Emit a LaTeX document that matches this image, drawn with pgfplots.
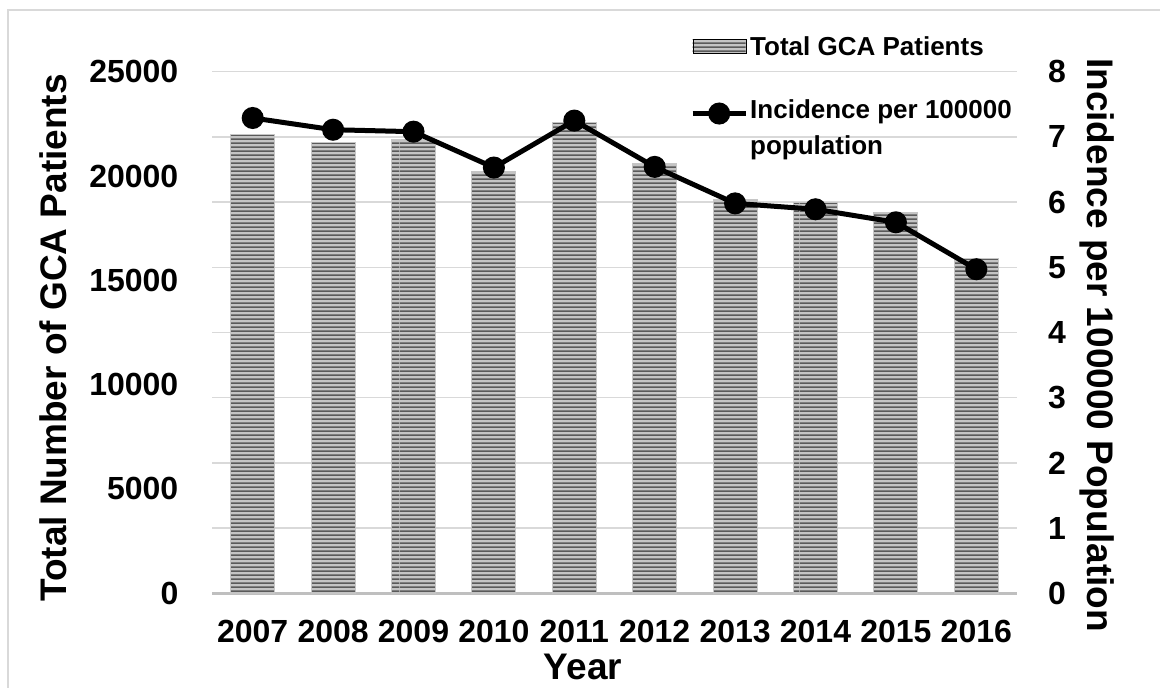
\documentclass[border=0pt]{standalone}
\usepackage{fontspec}
\setmainfont{Liberation Sans}
\usepackage{pgfplots}
\usepackage{pgfplotstable}
\pgfplotsset{compat=1.18}
\usetikzlibrary{patterns}

\definecolor{gridgray}{HTML}{D9D9D9}
\definecolor{axisgray}{HTML}{BFBFBF}
\definecolor{framegray}{HTML}{D9D9D9}
\definecolor{barlight}{HTML}{C4C4C4}
\definecolor{bardark}{HTML}{5A5A5A}

\newcommand\tickfont{\fontsize{32}{38}\selectfont\bfseries}
\newcommand\titlefont{\fontsize{37}{44}\selectfont\bfseries}
\newcommand\legfont{\fontsize{26}{36}\selectfont\bfseries}

% horizontal stripes, 4pt period, 2pt dark band, wide tile to avoid seams
\pgfdeclarepatternformonly{hstripes}{\pgfqpoint{0pt}{0pt}}{\pgfqpoint{200pt}{4pt}}{\pgfqpoint{200pt}{4pt}}{%
  \pgfpathrectangle{\pgfqpoint{0pt}{0pt}}{\pgfqpoint{200pt}{2pt}}\pgfusepath{fill}}

\tikzset{
  stripedbar/.style={fill=barlight, draw=gray!45, line width=1pt,
    postaction={pattern=hstripes, pattern color=bardark}},
}

% GCA patients per year and incidence per 100000 population
\pgfplotstableread{
x    year patients incidence
0.5  2007 21966 7.29
1.5  2008 21597 7.11
2.5  2009 21727 7.08
3.5  2010 20207 6.53
4.5  2011 22575 7.25
5.5  2012 20576 6.54
6.5  2013 18851 5.98
7.5  2014 18740 5.89
8.5  2015 18261 5.69
9.5  2016 16056 4.97
}\gcadata

\pgfplotsset{
  common/.style={
    at={(212.5pt,94.7pt)}, anchor=south west,
    scale only axis, width=804pt, height=521.6pt,
    xmin=0, xmax=10, enlargelimits=false,
    major tick length=0pt,
    scaled y ticks=false,
  },
}

\begin{document}
\begin{tikzpicture}[x=1pt,y=1pt]
\path[use as bounding box] (0,0) rectangle (1160,688);
\draw[framegray, line width=1.5pt] (8,0) -- (8,678) -- (1160,678);

% left axis: patient counts as striped bars
\begin{axis}[common,
  ymin=0, ymax=25000,
  axis x line*=bottom, axis y line*=left,
  x axis line style={draw=axisgray, line width=3pt},
  y axis line style={draw=none},
  xtick={0.5,1.5,...,9.5},
  xticklabels={2007,2008,2009,2010,2011,2012,2013,2014,2015,2016},
  xticklabel style={font=\tickfont, inner sep=0pt, anchor=north, yshift=-27pt},
  ytick={0,5000,10000,15000,20000,25000},
  yticklabels={0,5000,10000,15000,20000,25000},
  yticklabel style={font=\tickfont, inner sep=0pt, anchor=east, xshift=-34pt},
  extra y ticks={3125,6250,9375,12500,15625,18750,21875,25000},
  extra y tick labels={},
  extra y tick style={grid=major, major grid style={draw=gridgray, line width=1.5pt}},
  xlabel={Year},
  every axis x label/.style={at={(axis description cs:0.4608,-0.1662)}, anchor=base, font=\titlefont},
  ylabel={Total Number of GCA Patients},
  every axis y label/.style={at={(axis description cs:-0.1822,0.4895)}, rotate=90, anchor=base, font=\titlefont},
]
\addplot[ybar, bar width=44pt, stripedbar] table[x=x, y=patients] {\gcadata};
\end{axis}

% right axis: incidence line
\begin{axis}[common,
  ymin=0, ymax=8, clip=false,
  axis x line=none, axis y line*=right,
  y axis line style={draw=none},
  ytick={0,1,2,3,4,5,6,7,8},
  yticklabels={0,1,2,3,4,5,6,7,8},
  yticklabel style={font=\tickfont, inner sep=0pt, anchor=west, xshift=31.5pt},
  ylabel={Incidence per 100000 Population},
  every axis y label/.style={at={(axis description cs:1.0889,0.476)}, rotate=-90, anchor=base, font=\titlefont},
  legend cell align=left,
  legend style={at={(axis description cs:0.5939,1.0723)}, anchor=north west,
    draw=none, fill=none, inner sep=0pt, font=\legfont,
    row sep=30pt, nodes={inner sep=2pt}},
]
\addlegendimage{legend image code/.code={
  \fill[barlight] (0pt,-7pt) rectangle (53pt,7pt);
  \fill[pattern=hstripes, pattern color=bardark] (0pt,-7pt) rectangle (53pt,7pt);}}
\addlegendentry{Total GCA Patients}
\addplot[black, line width=5pt, mark=*, mark size=8.5pt,
  legend image code/.code={
    \path (0pt,-15.5pt) (0pt,15.5pt);
    \draw[black, line width=5pt] (0pt,-7pt) -- (53pt,-7pt);
    \fill[black] (26.5pt,-7pt) circle (8.5pt);}]
  table[x=x, y=incidence] {\gcadata};
\addlegendentry{\raisebox{0pt}[\height][0pt]{\begin{tabular}[t]{@{}l@{}}Incidence per 100000\\population\end{tabular}}}
\end{axis}
\end{tikzpicture}
\end{document}
